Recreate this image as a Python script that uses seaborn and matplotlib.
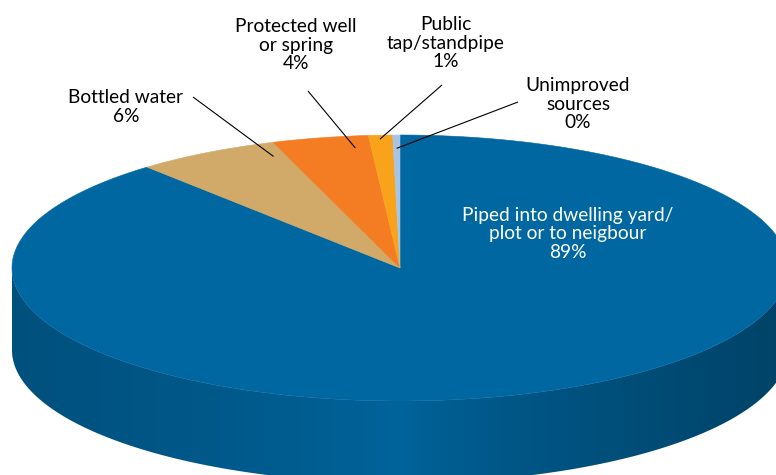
import numpy as np
import matplotlib
matplotlib.use("Agg")
import matplotlib.pyplot as plt
from matplotlib.colors import to_rgb
import seaborn as sns

# Drinking water sources (share of households, %)
categories = [
    "Piped into dwelling yard/\nplot or to neigbour",
    "Bottled water",
    "Protected well\nor spring",
    "Public\ntap/standpipe",
    "Unimproved\nsources",
]
shares = [88.7, 6.0, 4.0, 1.0, 0.3]
slice_colors = ["#0067a0", "#d1aa69", "#f47c22", "#f9a31c", "#a9c4e2"]

sns.set_theme(style="white")
palette = sns.color_palette(slice_colors)
plt.rcParams["font.family"] = ["Lato", "DejaVu Sans"]

fig = plt.figure(figsize=(7.76, 4.75), dpi=100)
ax = fig.add_axes([0, 0, 1, 1])
ax.set_xlim(0, 776)
ax.set_ylim(475, 0)
ax.axis("off")

# tilted disc geometry (screen units)
cx, cy, rx, ry, depth = 400, 268, 388, 133, 82

frac = np.array(shares) / np.sum(shares)
cum = np.cumsum(frac) * 360.0
ends = 90.0 - cum                     # slices run clockwise from 12 o'clock
starts = np.concatenate([[90.0], ends[:-1]])


def pt(theta, r=1.0):
    t = np.radians(theta)
    return cx + rx * r * np.cos(t), cy - ry * r * np.sin(t)


def slice_of(theta):
    off = (90.0 - theta) % 360.0
    return int(np.searchsorted(cum, off))


# front wall of the disc: horizontal shading clipped to the wall outline
th = np.linspace(180.0, 360.0, 721)
wx, wy = pt(th)
wall = np.concatenate([np.column_stack([wx, wy]),
                       np.column_stack([wx[::-1], wy[::-1] + depth])])
wall_patch = plt.Polygon(wall, closed=True, facecolor="none", edgecolor="none")
ax.add_patch(wall_patch)

cols = np.linspace(cx - rx, cx + rx, 800)
shade = np.zeros((1, cols.size, 3))
for j, xv in enumerate(cols):
    c = np.clip((xv - cx) / rx, -1, 1)
    theta = 360.0 - np.degrees(np.arccos(c))
    k = 0.20 if c < 0 else 0.33
    f = 0.98 - k * abs(c) ** 0.7
    shade[0, j] = np.clip(np.array(to_rgb(palette[slice_of(theta)])) * f, 0, 1)
img = ax.imshow(shade, extent=(cx - rx, cx + rx, cy + ry + depth, cy - 5),
                aspect="auto", interpolation="bilinear", zorder=1)
img.set_clip_path(wall_patch)
ax.set_xlim(0, 776)
ax.set_ylim(475, 0)

# top face slices
for i in range(len(shares)):
    arc = np.linspace(starts[i], ends[i], max(int(abs(starts[i] - ends[i]) * 2), 4))
    xs, ys = pt(arc)
    verts = [(cx, cy)] + list(zip(xs, ys))
    ax.add_patch(plt.Polygon(verts, closed=True, facecolor=palette[i],
                             edgecolor=palette[i], linewidth=0.4, zorder=2))

labels = [f"{c}\n{round(v):.0f}%" for c, v in zip(categories, shares)]
fs = 13.8

# main slice label sits on the slice itself
ax.text(568, 234, labels[0], color="white", fontsize=fs, ha="center",
        va="center", linespacing=1.08, zorder=3)

# outside labels with leader lines: (text centre, line start, anchor fraction, radius)
outside = {
    1: ((126, 107), (193, 97), 0.90, 0.90),
    2: ((296, 45), (308, 91), 0.82, 0.91),
    3: ((446, 43), (442, 85), 0.45, 0.97),
    4: ((578, 104), (518, 102), 0.50, 0.90),
}
for i, (tc, ls, fa, rr) in outside.items():
    ax.text(tc[0], tc[1], labels[i], color="black", fontsize=fs,
            ha="center", va="center", linespacing=1.08, zorder=3)
    ang = starts[i] + fa * (ends[i] - starts[i])
    ax_, ay_ = pt(ang, rr)
    ax.plot([ls[0], ax_], [ls[1], ay_], color="black", lw=0.8,
            solid_capstyle="butt", zorder=3)

fig.savefig("out.png", dpi=100)
